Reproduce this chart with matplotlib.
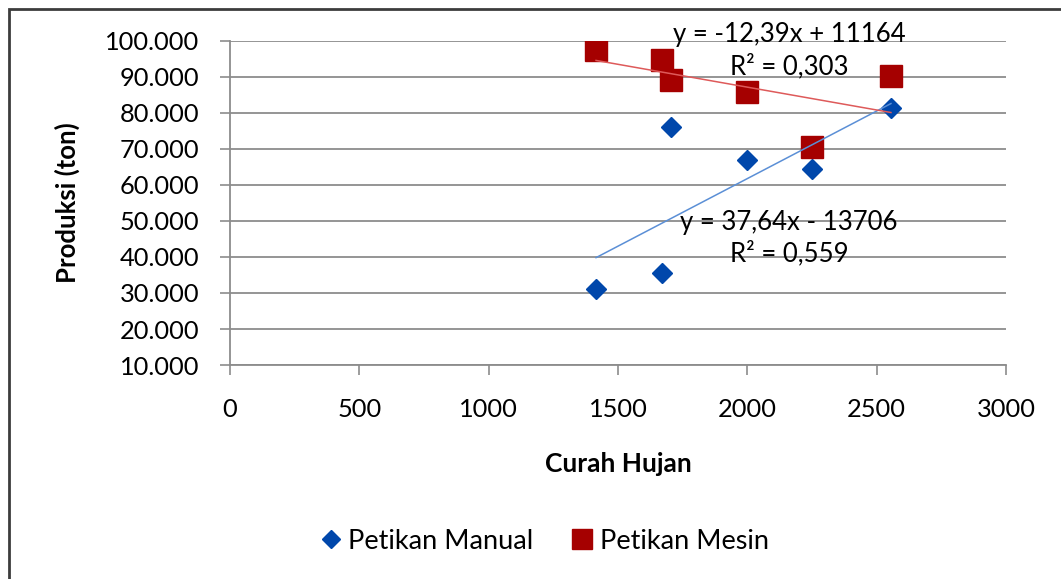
import numpy as np
import matplotlib.pyplot as plt
from matplotlib.ticker import FuncFormatter, MultipleLocator
from matplotlib.patches import Rectangle

plt.rcParams['font.family'] = ['Lato', 'DejaVu Sans']

# rainfall vs. production for both harvest methods
curah_hujan = [1415, 1670, 1705, 2000, 2250, 2555]
petikan_manual = [31000, 35500, 76000, 67000, 64500, 81500]
petikan_mesin = [97500, 94700, 89200, 85900, 70600, 90300]

persamaan_manual = "y = 37,64x - 13706\nR² = 0,559"
persamaan_mesin = "y = -12,39x + 11164\nR² = 0,303"

fig = plt.figure(figsize=(10.61, 5.79), dpi=100)
ax = fig.add_axes([0.2168, 0.3696, 0.7314, 0.5596])

grid_col = '#8c8c8c'
blue = '#0047AB'
red = '#A50000'

x = np.array(curah_hujan)
for yv, col, lcol, mk, ms, name in [
        (petikan_manual, blue, '#5b8fd6', 'D', 10.5, 'Petikan Manual'),
        (petikan_mesin, red, '#de5a5a', 's', 16.5, 'Petikan Mesin')]:
    ax.plot(x, yv, linestyle='none', marker=mk, markersize=ms, color=col,
            label=name, zorder=3)
    # linear trend line over the data range
    k, b = np.polyfit(x, yv, 1)
    xs = np.array([x.min(), x.max()])
    ax.plot(xs, k * xs + b, color=lcol, linewidth=1.1, zorder=4)

ax.text(2161, 97300, persamaan_mesin, ha='center', va='center', fontsize=18.5,
        linespacing=1.3, clip_on=False, zorder=5)
ax.text(2161, 45200, persamaan_manual, ha='center', va='center', fontsize=18.5,
        linespacing=1.3, clip_on=False, zorder=5)

ax.set_xlim(0, 3000)
ax.set_ylim(10000, 100000)
ax.xaxis.set_major_locator(MultipleLocator(500))
ax.yaxis.set_major_locator(MultipleLocator(10000))
ax.yaxis.set_major_formatter(FuncFormatter(lambda v, p: f"{int(v):,}".replace(",", ".")))

ax.grid(axis='y', color=grid_col, linewidth=1.3)
ax.set_axisbelow(True)
for s in ['top', 'right']:
    ax.spines[s].set_visible(False)
for s in ['left', 'bottom']:
    ax.spines[s].set_color(grid_col)
    ax.spines[s].set_linewidth(1.3)
ax.tick_params(axis='both', length=7, width=1.2, color=grid_col, labelsize=18.3)
ax.tick_params(axis='x', pad=17)
ax.tick_params(axis='y', pad=15)

ax.set_xlabel('Curah Hujan', fontsize=19, fontweight='bold', labelpad=22)
ax.set_ylabel('Produksi (ton)', fontsize=18.5, fontweight='bold', labelpad=18)

fig.legend(loc='center', bbox_to_anchor=(0.513, 0.065), ncol=2, frameon=False,
           fontsize=19.5, handlelength=0.8, handletextpad=0.25,
           columnspacing=1.4, markerscale=0.9)

# outer chart frame
fig.add_artist(Rectangle((9 / 1061, -0.05), 1.2, 1 - 9 / 579 + 0.05,
                         transform=fig.transFigure, fill=False,
                         edgecolor='#3c3c3c', linewidth=2, clip_on=False))

fig.savefig('out.png', dpi=100)
